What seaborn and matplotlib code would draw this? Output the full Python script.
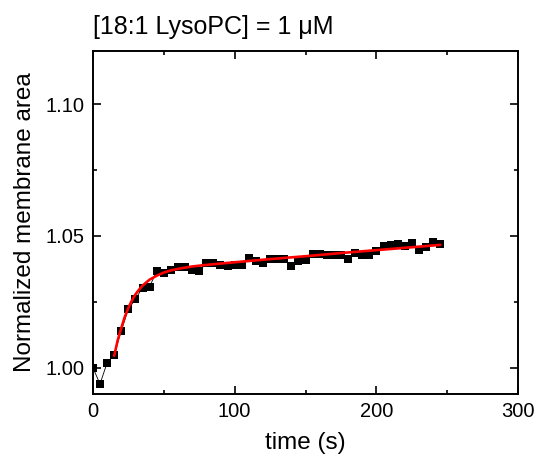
import numpy as np
import pandas as pd
import matplotlib
matplotlib.use("Agg")
import matplotlib.pyplot as plt
import seaborn as sns
from matplotlib.ticker import MultipleLocator

# ---------------------------------
# Data
# ---------------------------------

time_s = [0, 5, 10, 15, 20, 25, 30, 35, 40, 45,
          50, 55, 60, 65, 70, 75, 80, 85, 90, 95,
          100, 105, 110, 115, 120, 125, 130, 135, 140, 145,
          150, 155, 160, 165, 170, 175, 180, 185, 190, 195,
          200, 205, 210, 215, 220, 225, 230, 235, 240, 245]

area = [1.0000, 0.9938, 1.0018, 1.0049, 1.0140, 1.0222, 1.0260, 1.0304, 1.0308, 1.0365,
        1.0359, 1.0369, 1.0381, 1.0381, 1.0369, 1.0367, 1.0396, 1.0398, 1.0390, 1.0384,
        1.0390, 1.0390, 1.0415, 1.0403, 1.0396, 1.0412, 1.0412, 1.0412, 1.0384, 1.0403,
        1.0410, 1.0432, 1.0430, 1.0426, 1.0426, 1.0428, 1.0412, 1.0437, 1.0428, 1.0428,
        1.0441, 1.0460, 1.0466, 1.0470, 1.0460, 1.0473, 1.0447, 1.0458, 1.0475, 1.0469]

fit_time = [15, 17.5, 20, 22.5, 25, 27.5, 30, 32.5, 35, 37.5, 40, 45, 50, 55,
            60, 70, 80, 100, 125, 150, 175, 200, 225, 245]

fit_area = [1.0045, 1.0104, 1.0150, 1.0193, 1.0227, 1.0255, 1.0278, 1.0296, 1.0311,
            1.0323, 1.0334, 1.0349, 1.0361, 1.0369, 1.0375, 1.0384, 1.0390, 1.0400,
            1.0412, 1.0423, 1.0435, 1.0446, 1.0457, 1.0466]

df = pd.DataFrame({"time": time_s, "area": area})
fit = pd.DataFrame({"time": fit_time, "area": fit_area})

# ---------------------------------
# Style
# ---------------------------------

sns.set_style("ticks")
plt.rcParams["font.family"] = ["Liberation Sans", "DejaVu Sans"]
plt.rcParams["text.color"] = "black"
plt.rcParams["axes.labelcolor"] = "black"
plt.rcParams["xtick.color"] = "black"
plt.rcParams["ytick.color"] = "black"

fig = plt.figure(figsize=(5.37, 4.63), dpi=100)
ax = fig.add_axes([0.173, 0.149, 0.792, 0.741])

# ---------------------------------
# Plot
# ---------------------------------

sns.lineplot(
    data=df, x="time", y="area", ax=ax,
    color="black", linewidth=0.6, marker="s",
    markersize=6, markeredgewidth=0, sort=False
)

sns.lineplot(
    data=fit, x="time", y="area", ax=ax,
    color="#ff0000", linewidth=1.9, sort=False
)

# ---------------------------------
# Axes
# ---------------------------------

ax.set_xlim(0, 300)
ax.set_ylim(0.990, 1.1202)
ax.xaxis.set_major_locator(MultipleLocator(100))
ax.xaxis.set_minor_locator(MultipleLocator(50))
ax.yaxis.set_major_locator(MultipleLocator(0.05))
ax.yaxis.set_minor_locator(MultipleLocator(0.025))
ax.yaxis.set_major_formatter(matplotlib.ticker.FormatStrFormatter("%.2f"))

ax.tick_params(which="both", direction="in", top=True, right=True,
               width=1.2, color="black", labelcolor="black")
ax.tick_params(which="major", length=5.5, labelsize=14.5, pad=6)
ax.tick_params(which="minor", length=2.8)

for s in ax.spines.values():
    s.set_linewidth(1.4)
    s.set_color("black")

ax.set_xlabel("time (s)", fontsize=17.5, labelpad=8)
ax.set_ylabel("Normalized membrane area", fontsize=17.5, labelpad=7)

ax.set_title("[18:1 LysoPC] = 1 \u03bcM", fontsize=18, loc="left", pad=12)

fig.savefig("out.png", dpi=100)
